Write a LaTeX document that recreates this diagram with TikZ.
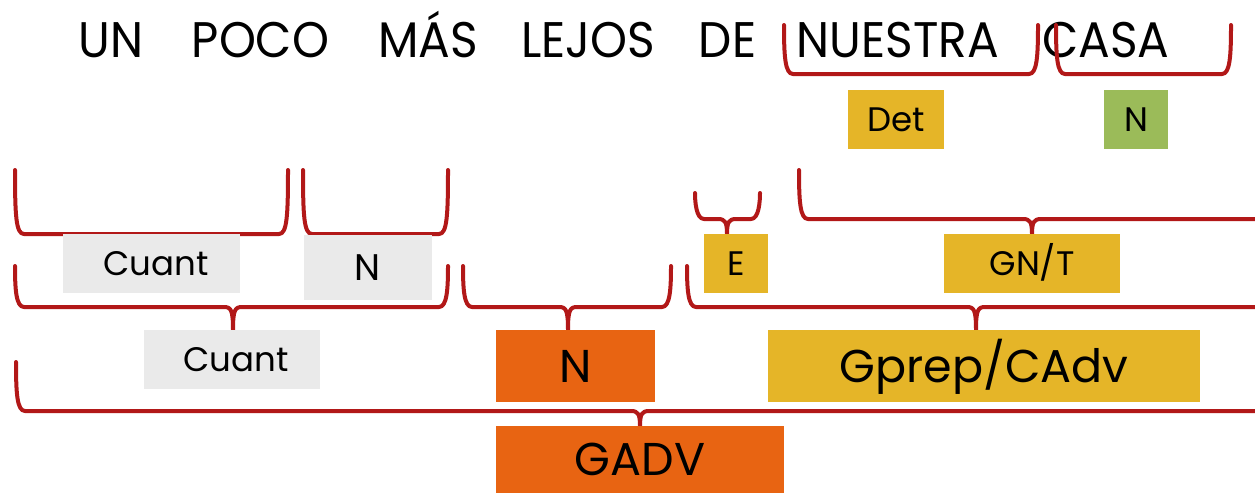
\documentclass[tikz,border=0pt]{standalone}
\usepackage{fontspec}
\usepackage{graphicx}
\setmainfont{Poppins}
\definecolor{brred}{RGB}{178,24,24}
\definecolor{gold}{RGB}{229,181,40}
\definecolor{leaf}{RGB}{155,187,89}
\definecolor{orng}{RGB}{232,100,18}
\definecolor{lgray}{RGB}{234,234,234}
\newcommand{\narrowword}[1]{\scalebox{0.94}[1]{#1}}
\newcommand{\flatbrace}[4]{% L R T B
  \draw[br] (#1,#3) .. controls (#1,#4-18) and (#1+1,#4) .. (#1+9,#4) -- (#2-9,#4) .. controls (#2-1,#4) and (#2,#4-18) .. (#2,#3);}
\newcommand{\tipbrace}[6]{% L R T B M E
  \draw[br] (#1,#3) .. controls (#1,#4-18) and (#1+1,#4) .. (#1+9,#4) -- (#5-9,#4) .. controls (#5-2,#4) and (#5,#4+3) .. (#5,#6)
    .. controls (#5,#4+3) and (#5+2,#4) .. (#5+9,#4) -- (#2-9,#4) .. controls (#2-1,#4) and (#2,#4-18) .. (#2,#3);}
\newcommand{\openbrace}[5]{% L T B M E  (runs off right edge)
  \draw[br] (#1,#2) .. controls (#1,#3-18) and (#1+1,#3) .. (#1+9,#3) -- (#4-9,#3) .. controls (#4-2,#3) and (#4,#3+3) .. (#4,#5)
    .. controls (#4,#3+3) and (#4+2,#3) .. (#4+9,#3) -- (1258,#3);}
\begin{document}
\begin{tikzpicture}[x=1pt,y=-1pt,
  br/.style={draw=brred,line width=4pt,line join=round,line cap=round},
  lab/.style={inner sep=0pt,outer sep=0pt,text depth=0pt,anchor=center},
  word/.style={lab,text height=35pt,font=\fontsize{50}{50}\selectfont},
  small/.style={lab,text height=24pt,font=\fontsize{34}{34}\selectfont,minimum height=59pt},
  big/.style={lab,text height=32pt,font=\fontsize{46}{46}\selectfont}]
\useasboundingbox (0,0) rectangle (1255,493);
\fill[white] (0,0) rectangle (1255,493);
% title words
\node[word] (w1) at (111,39.5) {\narrowword{UN}};
\node[word] (w2) at (260.5,39.5) {\narrowword{POCO}};
\node[word] (w3) at (428,39.5) {\narrowword{MÁS}};
\node[word] (w4) at (588,39.5) {\narrowword{LEJOS}};
\node[word] (w5) at (727.5,39.5) {\narrowword{DE}};
\node[word] (w6) at (898,39.5) {\narrowword{NUESTRA}};
\node[word] (w7) at (1106,39.5) {\narrowword{CASA}};
% brackets
\flatbrace{784}{1038}{25}{74}
\flatbrace{1056}{1231}{25}{74}
\flatbrace{15}{288}{170}{234}
\flatbrace{303}{448}{170}{234}
\tipbrace{695}{760}{193}{219}{727}{234}
\openbrace{799}{170}{219}{1032}{234}
\tipbrace{15}{448}{266}{307}{233}{330}
\tipbrace{463}{671}{266}{307}{568}{330}
\openbrace{687}{266}{307}{976}{330}
\openbrace{16}{362}{411}{640}{426}
% boxes
\node[small,fill=gold,minimum width=96pt] (det) at (896,119.5) {Det};
\node[small,fill=leaf,minimum width=64pt] (nn) at (1136,119.5) {N};
\node[small,fill=lgray,minimum width=177pt] (cu1) at (151.5,263.5) {\hspace{9pt}Cuant};
\node[lab,fill=lgray,minimum width=128pt,minimum height=65pt,text height=26pt,font=\fontsize{37}{37}\selectfont] (ng) at (368,267.5) {N};
\node[small,fill=gold,minimum width=64pt] (ee) at (736,263.5) {E};
\node[small,fill=gold,minimum width=176pt] (gnt) at (1032,263.5) {GN/T};
\node[small,fill=lgray,minimum width=176pt] (cu2) at (232,359.5) {\hspace{8pt}Cuant};
\node[big,fill=orng,minimum width=159pt,minimum height=72pt] (no) at (575.5,366) {N};
\node[big,fill=gold,minimum width=432pt,minimum height=72pt] (gp) at (984,366) {Gprep/CAdv};
\node[big,fill=orng,minimum width=288pt,minimum height=67pt] (gadv) at (640,459.5) {GADV};
\end{tikzpicture}
\end{document}
